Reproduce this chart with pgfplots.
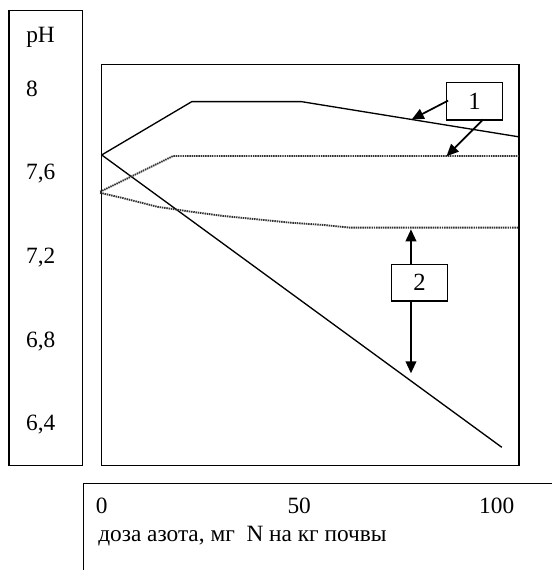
\documentclass[border=0pt]{standalone}
\usepackage{pgfplots}
\pgfplotsset{compat=1.18}
\usepackage{fontspec}
\setmainfont{Liberation Serif}
\usetikzlibrary{arrows.meta}
\begin{document}
\fontsize{17.5}{21}\selectfont
\begin{tikzpicture}
\useasboundingbox (0,0) rectangle (413.25pt,427.5pt);
\begin{scope}[x=0.75pt,y=-0.75pt,yshift=427.5pt]
  \draw[line width=1pt] (9,10.7) rectangle (82.7,465.7);
  \draw[line width=1pt] (83.3,572) -- (83.3,483.3) -- (553,483.3);
\end{scope}
\begin{axis}[
  at={(76.275pt,78.225pt)}, anchor=south west,
  scale only axis, width=312.975pt, height=301.05pt,
  xmin=0, xmax=105.65, ymin=6.195, ymax=8.1158,
  clip=false,
  axis line style={line width=1pt},
  xtick={0,50,100}, xticklabels={0,50,100},
  ytick={6.4,6.8,7.2,7.6,8}, yticklabels={{6,4},{6,8},{7,2},{7,6},8},
  major tick length=0pt, tick style={draw=none},
  tick label style={font=\fontsize{17.5}{21}\selectfont},
  yticklabel style={anchor=base west, inner sep=0pt, xshift=-56.8pt, yshift=-5.9pt},
  xticklabel style={anchor=base, inner sep=0pt, yshift=-35.5pt},
  label style={font=\fontsize{17.5}{21}\selectfont},
  xlabel={доза азота, мг\ \ N на кг почвы},
  xlabel style={at={(axis description cs:-0.0089,-0.190)}, anchor=base west, inner sep=0pt},
  ylabel={pH},
  ylabel style={rotate=-90, at={(axis description cs:-0.1814,1.0538)}, anchor=base west, inner sep=0pt},
]
\addplot[black, line width=1pt] coordinates {(0,7.682) (22.8,7.937) (50.6,7.937) (105.5,7.769)};
\addplot[black, line width=1pt] coordinates {(0,7.682) (101.3,6.283)};
\addplot[black!80, line width=1.4pt, dash pattern=on 1.1pt off 0.6pt] coordinates {(-0.4,7.506) (18.1,7.677) (105.6,7.677)};
\addplot[black!80, line width=1.4pt, dash pattern=on 1.1pt off 0.6pt] coordinates {(-0.4,7.501) (5.5,7.475) (14.1,7.434) (22.4,7.411) (30.8,7.390) (39.3,7.374) (47.7,7.358) (56.1,7.347) (62.9,7.334) (105.6,7.334)};
\draw[line width=1pt, fill=white] (axis cs:87.3,8.028) rectangle (axis cs:101.5,7.849);
\node[font=\fontsize{18.5}{22}\selectfont] at (axis cs:94.4,7.938) {1};
\draw[-{Triangle[length=9pt,width=8pt]}, line width=1.3pt] (axis cs:87.7,7.942) -- (axis cs:78.5,7.852);
\draw[-{Triangle[length=9pt,width=8pt]}, line width=1.3pt] (axis cs:96.6,7.852) -- (axis cs:87.3,7.676);
\draw[line width=1pt, fill=white] (axis cs:73.4,7.159) rectangle (axis cs:87.5,6.983);
\node[font=\fontsize{18.5}{22}\selectfont] at (axis cs:80.45,7.071) {2};
\draw[-{Triangle[length=9pt,width=8pt]}, line width=1.3pt] (axis cs:78.3,7.159) -- (axis cs:78.3,7.326);
\draw[-{Triangle[length=9pt,width=8pt]}, line width=1.3pt] (axis cs:78.3,6.983) -- (axis cs:78.3,6.637);
\end{axis}
\end{tikzpicture}
\end{document}
